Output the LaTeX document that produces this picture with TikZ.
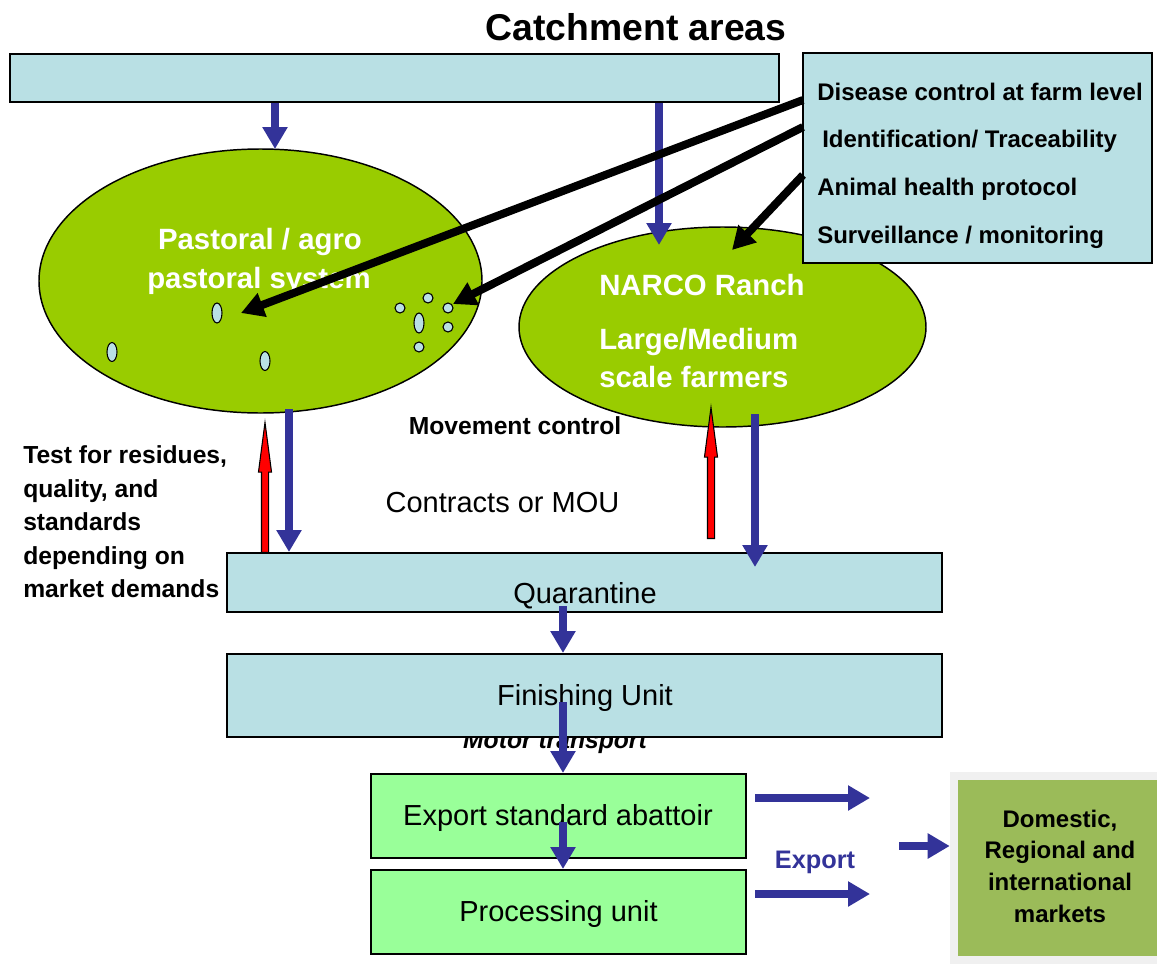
\documentclass[tikz,border=0pt]{standalone}
\usepackage{fontspec}
\setmainfont{Liberation Sans}
\usetikzlibrary{arrows.meta,shapes.geometric,shapes.arrows}
\definecolor{boxblue}{RGB}{185,224,228}
\definecolor{grassgreen}{RGB}{153,204,0}
\definecolor{lightgreen}{RGB}{153,255,153}
\definecolor{mktgreen}{RGB}{155,187,89}
\definecolor{arrowblue}{RGB}{51,51,153}
\definecolor{framegray}{RGB}{240,240,240}
\begin{document}
\begin{tikzpicture}[x=0.75pt,y=-0.75pt,
  box/.style={draw=black,line width=1.5pt,fill=boxblue,inner sep=0pt},
  gbox/.style={draw=black,line width=1.5pt,fill=lightgreen,inner sep=0pt},
  field/.style={ellipse,draw=black,line width=1.1pt,fill=grassgreen,inner sep=0pt},
  dot/.style={ellipse,draw=black,line width=0.8pt,fill=boxblue,inner sep=0pt,minimum width=7.5pt},
  bluearr/.style={draw=arrowblue,line width=6pt,-{Triangle[length=16.5pt,width=18pt]},fill=arrowblue},
  blackarr/.style={draw=black,line width=6pt,-{Triangle[length=17pt,width=18pt]}},
  redarr/.style={single arrow,draw=black,line width=0.8pt,fill=red,rotate=90,inner xsep=0pt,inner ysep=2.25pt,
     minimum width=9pt,single arrow head extend=2.25pt,single arrow tip angle=15,anchor=tail},
  bl/.style={font=\fontsize{18.5}{22}\selectfont\bfseries,inner sep=0pt,anchor=base west},
  rl/.style={font=\fontsize{18}{22}\selectfont\bfseries,inner sep=0pt,anchor=base west},
  wl/.style={font=\fontsize{22}{26}\selectfont\bfseries,text=white,inner sep=0pt},
  nl/.style={font=\fontsize{21.75}{26}\selectfont,inner sep=0pt,anchor=base},
  ml/.style={font=\fontsize{18}{22}\selectfont\bfseries,inner sep=0pt,anchor=base}
]
\useasboundingbox (0,0) rectangle (1157,964);

% title
\node[font=\fontsize{28}{34}\selectfont\bfseries,inner sep=0pt,anchor=base] (title) at (636,40) {Catchment areas};

% top bar
\node[box,minimum width=576.75pt,minimum height=36pt] (topbar) at (394.5,78) {};

% pastoral field
\node[field,minimum width=332.25pt,minimum height=198pt] (lell) at (260.5,281) {};
\node[wl,anchor=base] (p1) at (260,249) {Pastoral / agro};
\node[wl,anchor=base] (p2) at (259,288) {pastoral system};
\foreach \i/\x/\y/\h in {1/217/313/20,2/112/352/19,3/265/361/19,4/400/308/10,5/428/298/10,6/448/308/10,7/419/323/20,8/448/327/10,9/419/347/10}
  \node[dot,minimum height=\h*0.75pt] (d\i) at (\x,\y) {};

% NARCO field
\node[field,minimum width=305.25pt,minimum height=150pt] (rell) at (722.5,327) {};
\node[wl,anchor=base west] (n1) at (599,295) {NARCO Ranch};
\node[wl,anchor=base west] (n2) at (599,349) {Large/Medium};
\node[wl,anchor=base west] (n3) at (599,387) {scale farmers};

% control box
\node[box,minimum width=261.75pt,minimum height=157.5pt] (rb) at (977.5,158) {};
\node[rl] (c1) at (817,100) {Disease control at farm level};
\node[rl] (c2) at (822,147) {Identification/ Traceability};
\node[rl] (c3) at (817,195) {Animal health protocol};
\node[rl] (c4) at (817,243) {Surveillance / monitoring};

% top blue arrows
\coordinate (t1) at (275,149);
\coordinate (t2) at (659,245);
\draw[bluearr] (topbar.south -| t1) -- (t1);
\draw[bluearr] (topbar.south -| t2) -- (t2);

% black arrows
\coordinate (s1) at (803,100); \coordinate (e1) at (241,313);
\coordinate (s2) at (803,127); \coordinate (e2) at (453,304);
\coordinate (s3) at (803,175); \coordinate (e3) at (732,250);
\draw[blackarr] (s1) -- (e1);
\draw[blackarr] (s2) -- (e2);
\draw[blackarr] (s3) -- (e3);

% labels
\node[bl,anchor=base] (mc) at (515,434) {Movement control};
\node[nl] (mou) at (502.5,512) {Contracts or MOU};
\node[bl] (tt1) at (23,463) {Test for residues,};
\node[bl] (tt2) at (23,497) {quality, and};
\node[bl] (tt3) at (23,530) {standards};
\node[bl] (tt4) at (23,564) {depending on};
\node[bl] (tt5) at (23,597) {market demands};

% quarantine
\node[box,minimum width=536.25pt,minimum height=44.25pt] (quar) at (584.5,582.5) {};
\node[nl] (qt) at (585,603) {Quarantine};

% motor transport + finishing
\node[font=\fontsize{18.5}{22}\selectfont\bfseries\itshape,inner sep=0pt,anchor=base] (mt) at (555,748) {Motor transport};
\node[box,minimum width=536.25pt,minimum height=62.25pt] (fin) at (584.5,695.5) {};
\node[nl] (ft) at (585,705) {Finishing Unit};

% abattoir + processing
\node[gbox,minimum width=281.25pt,minimum height=63pt] (aba) at (558.5,816) {};
\node[nl] (at) at (558,825) {Export standard abattoir};
\node[gbox,minimum width=281.25pt,minimum height=63pt] (proc) at (558.5,912) {};
\node[nl] (pt) at (558.5,921) {Processing unit};

% lower blue arrows
\coordinate (b1) at (289,409);
\coordinate (b2) at (755,414); \coordinate (b2e) at (755,567);
\coordinate (b3) at (563,606);
\coordinate (b4) at (563,702);
\coordinate (b5) at (563,822);
\draw[bluearr] (b1) -- (b1 |- quar.north);
\draw[bluearr] (b2) -- (b2e);
\draw[bluearr] (b3) -- (b3 |- fin.north);
\draw[bluearr] (b4) -- (b4 |- aba.north);
\draw[bluearr] (b5) -- (b5 |- proc.north);

% red arrows
\coordinate (rt1) at (265,553);
\coordinate (rt2) at (711,539);
\node[redarr,minimum height=97.5pt] (ra1) at (rt1) {};
\node[redarr,minimum height=98.25pt] (ra2) at (rt2) {};

% markets
\node[fill=framegray,inner sep=0pt,minimum width=155.25pt,minimum height=144pt] (mframe) at (1053.5,868) {};
\node[fill=mktgreen,inner sep=0pt,minimum width=149.25pt,minimum height=132pt] (mkt) at (1057.5,868) {};
\node[ml] (m1) at (1060,827) {Domestic,};
\node[ml] (m2) at (1060,858) {Regional and};
\node[ml] (m3) at (1060,890) {international};
\node[ml] (m4) at (1060,922) {markets};

% export arrows
\coordinate (r1) at (755,798); \coordinate (r1e) at (870,798);
\coordinate (r2) at (755,894); \coordinate (r2e) at (870,894);
\coordinate (r3) at (899,846);
\draw[bluearr] (r1) -- (r1e);
\draw[bluearr] (r2) -- (r2e);
\draw[bluearr] (r3) -- (r3 -| mframe.west);
\node[font=\fontsize{19}{22}\selectfont\bfseries,text=arrowblue,inner sep=0pt,anchor=base] (exp) at (815,868) {Export};
\end{tikzpicture}
\end{document}
